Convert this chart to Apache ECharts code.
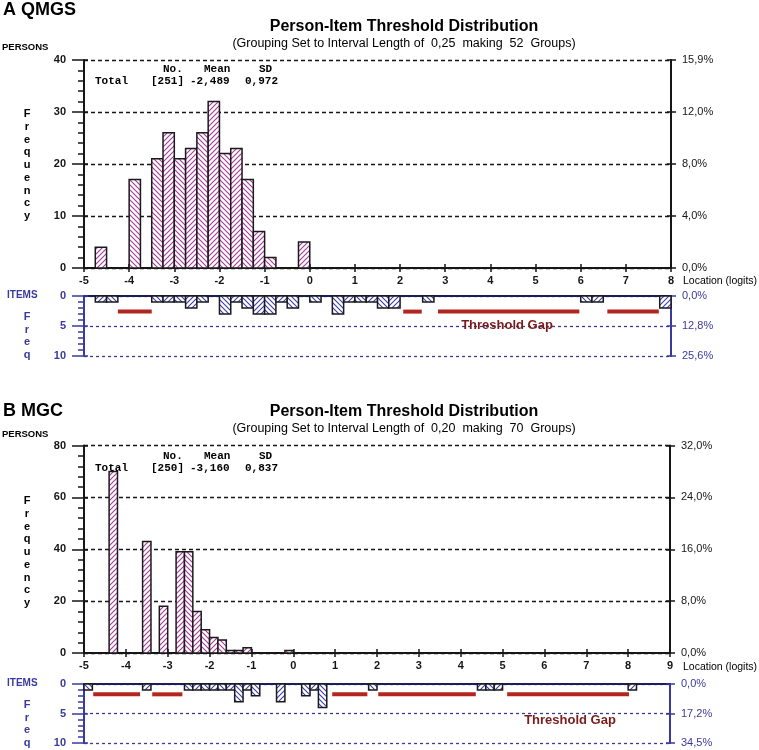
<!DOCTYPE html>
<html><head><meta charset="utf-8">
<script src="https://cdn.jsdelivr.net/npm/echarts@6/dist/echarts.min.js"></script>
<style>html,body{margin:0;padding:0;background:#fff}#c{width:759px;height:750px}</style>
</head><body><div id="c"></div>
<script>
// ---------- Panel A (QMGS) ----------
const rangeA = [-5, 8];
const binWidthA = 0.25;
const personBinStartA = [-4.75, -4, -3.5, -3.25, -3, -2.75, -2.5, -2.25, -2, -1.75, -1.5, -1.25, -1, -0.25];
const personCountA    = [4, 17, 21, 26, 21, 23, 26, 32, 22, 23, 17, 7, 2, 5];
const itemBinStartA = [-4.75, -4.5, -3.5, -3.25, -3, -2.75, -2.5, -2, -1.75, -1.5, -1.25, -1, -0.75, -0.5, 0, 0.5, 0.75, 1, 1.25, 1.5, 1.75, 2.5, 6, 6.25, 7.75];
const itemCountA    = [1, 1, 1, 1, 1, 2, 1, 3, 1, 2, 3, 3, 1, 2, 1, 3, 1, 1, 1, 2, 2, 1, 1, 1, 2];
const gapStartA = [-4.25, 2.07, 2.84, 6.59];
const gapEndA   = [-3.5, 2.48, 5.97, 7.73];
const gapLevelA = 2.6;
const personMaxA = 40, personStepA = 10;
const personPctA = ['0,0%', '4,0%', '8,0%', '12,0%', '15,9%'];
const itemPctA = ['0,0%', '12,8%', '25,6%'];
const statsA = ['[251]', '-2,489', '0,972'];
const subtitleA = '(Grouping Set to Interval Length of  0,25  making  52  Groups)';

// ---------- Panel B (MGC) ----------
const rangeB = [-5, 9];
const binWidthB = 0.2;
const personBinStartB = [-4.4, -3.6, -3.2, -2.8, -2.6, -2.4, -2.2, -2.0, -1.8, -1.6, -1.4, -1.2, -0.2];
const personCountB    = [70, 43, 18, 39, 39, 16, 9, 6, 5, 1, 1, 2, 1];
const itemBinStartB = [-5, -3.6, -2.6, -2.4, -2.2, -2.0, -1.8, -1.6, -1.4, -1.2, -1.0, -0.4, 0.2, 0.4, 0.6, 1.8, 4.4, 4.6, 4.8, 8.0];
const itemCountB    = [1, 1, 1, 1, 1, 1, 1, 1, 3, 1, 2, 3, 2, 1, 4, 1, 1, 1, 1, 1];
const gapStartB = [-4.78, -3.37, 0.93, 2.03, 5.11];
const gapEndB   = [-3.66, -2.65, 1.77, 4.36, 8.02];
const gapLevelB = 1.75;
const personMaxB = 80, personStepB = 20;
const personPctB = ['0,0%', '8,0%', '16,0%', '24,0%', '32,0%'];
const itemPctB = ['0,0%', '17,2%', '34,5%'];
const statsB = ['[250]', '-3,160', '0,837'];
const subtitleB = '(Grouping Set to Interval Length of  0,20  making  70  Groups)';

const itemMax = 10, itemStep = 5;

// ---------- styling ----------
const FONT = "'Liberation Sans', Arial, sans-serif";
const MONO = "'Liberation Mono', 'Courier New', monospace";
const BLACK = '#161616', BLUE = '#3a3a9e', NAVY = '#1d1d58', RED = '#b3261f', DARKRED = '#7a1c1c';

function hatch(color, forward) {
  const s = 5, c = document.createElement('canvas');
  c.width = s; c.height = s;
  const g = c.getContext('2d');
  g.fillStyle = '#fff'; g.fillRect(0, 0, s, s);
  g.strokeStyle = color; g.lineWidth = 1.1;
  g.beginPath();
  if (forward) {
    g.moveTo(-1, s + 1); g.lineTo(s + 1, -1);
    g.moveTo(-1, 1); g.lineTo(1, -1);
    g.moveTo(s - 1, s + 1); g.lineTo(s + 1, s - 1);
  } else {
    g.moveTo(-1, -1); g.lineTo(s + 1, s + 1);
    g.moveTo(s - 1, -1); g.lineTo(s + 1, 1);
    g.moveTo(-1, s - 1); g.lineTo(1, s + 1);
  }
  g.stroke();
  return { image: c, repeat: 'repeat' };
}
const personPat = [hatch('#a8389a', false), hatch('#a8389a', true)];
const itemPat = [hatch('#3b3bae', false), hatch('#3b3bae', true)];

// ---------- grids ----------
const grids = [
  { left: 84, top: 60, width: 587, height: 208 },
  { left: 84, top: 296, width: 587, height: 60 },
  { left: 84, top: 445.5, width: 586, height: 207.5 },
  { left: 84, top: 684, width: 586, height: 59 }
];

const xAxes = [], yAxes = [];
function histX(g, r) {
  xAxes.push({ gridIndex: g, type: 'value', min: r[0], max: r[1], interval: 1, position: 'bottom',
    axisLine: { onZero: false, lineStyle: { color: BLACK, width: 2 } },
    axisTick: { length: 4, lineStyle: { color: BLACK, width: 1.5 } },
    axisLabel: { margin: 7, color: BLACK, fontSize: 11, fontWeight: 'bold', fontFamily: FONT },
    splitLine: { show: false } });
  xAxes.push({ gridIndex: g, type: 'value', min: r[0], max: r[1], interval: 1, position: 'bottom',
    axisLine: { show: false, onZero: false }, axisTick: { inside: true, length: 4, lineStyle: { color: BLACK, width: 1.5 } },
    axisLabel: { show: false }, splitLine: { show: false } });
  return xAxes.length - 2;
}
function itemX(g, r) {
  xAxes.push({ gridIndex: g, type: 'value', min: r[0], max: r[1], position: 'top',
    axisLine: { onZero: false, lineStyle: { color: NAVY, width: 2 } },
    axisTick: { show: false }, axisLabel: { show: false }, splitLine: { show: false } });
  return xAxes.length - 1;
}
function panelY(g, max, step, minorSplit, color, pct, inverse, dash) {
  yAxes.push({ gridIndex: g, type: 'value', min: 0, max, interval: step, inverse, position: 'left',
    axisLine: { show: true, onZero: false, lineStyle: { color, width: 2 } },
    axisTick: { show: true, length: 12, lineStyle: { color, width: 1.5 } },
    minorTick: { show: true, splitNumber: minorSplit, length: 6, lineStyle: { color, width: 1.5 } },
    axisLabel: { margin: 18, color, fontSize: 11, fontWeight: 'bold', fontFamily: FONT },
    splitLine: { show: true, lineStyle: { color, width: 1.3, type: dash } } });
  const main = yAxes.length - 1;
  yAxes.push({ gridIndex: g, type: 'value', min: 0, max, interval: step, inverse, position: 'right',
    axisLine: { show: true, onZero: false, lineStyle: { color, width: 2 } },
    axisTick: { show: true, length: 5, lineStyle: { color, width: 1.5 } },
    axisLabel: { margin: 11, color, fontSize: 11, fontFamily: FONT, formatter: v => pct[Math.round(v / step)] },
    splitLine: { show: false } });
  yAxes.push({ gridIndex: g, type: 'value', min: 0, max, interval: step, inverse, position: 'left',
    axisLine: { show: false, onZero: false }, axisTick: { show: true, inside: true, length: 4, lineStyle: { color, width: 1.5 } },
    axisLabel: { show: false }, splitLine: { show: false } });
  yAxes.push({ gridIndex: g, type: 'value', min: 0, max, interval: step, inverse, position: 'right',
    axisLine: { show: false, onZero: false }, axisTick: { show: true, inside: true, length: 4, lineStyle: { color, width: 1.5 } },
    axisLabel: { show: false }, splitLine: { show: false } });
  return main;
}

function bars(xi, yi, starts, counts, width, origin, pats) {
  return { type: 'custom', xAxisIndex: xi, yAxisIndex: yi, z: 3, silent: true,
    data: starts.map((s, i) => [s, s + width, counts[i], Math.round((s - origin) / width) % 2]),
    renderItem: (p, api) => {
      const a = api.coord([api.value(0), 0]);
      const b = api.coord([api.value(1), api.value(2)]);
      return { type: 'rect',
        shape: { x: Math.min(a[0], b[0]), y: Math.min(a[1], b[1]), width: Math.abs(b[0] - a[0]), height: Math.abs(b[1] - a[1]) },
        style: { fill: pats[api.value(3)], stroke: '#1a1a1a', lineWidth: 1.5 } };
    } };
}
function gaps(xi, yi, st, en, level) {
  return { type: 'custom', xAxisIndex: xi, yAxisIndex: yi, z: 4, silent: true,
    data: st.map((s, i) => [s, en[i], level]),
    renderItem: (p, api) => {
      const a = api.coord([api.value(0), api.value(2)]);
      const b = api.coord([api.value(1), api.value(2)]);
      return { type: 'line', shape: { x1: a[0], y1: a[1], x2: b[0], y2: b[1] }, style: { stroke: RED, lineWidth: 4 } };
    } };
}

const xhA = histX(0, rangeA), yhA = panelY(0, personMaxA, personStepA, 5, BLACK, personPctA, false, [4, 3]);
const xiA = itemX(1, rangeA), yiA = panelY(1, itemMax, itemStep, 5, BLUE, itemPctA, true, [3, 3]);
const xhB = histX(2, rangeB), yhB = panelY(2, personMaxB, personStepB, 5, BLACK, personPctB, false, [4, 3]);
const xiB = itemX(3, rangeB), yiB = panelY(3, itemMax, itemStep, 5, BLUE, itemPctB, true, [3, 3]);

const series = [
  bars(xhA, yhA, personBinStartA, personCountA, binWidthA, rangeA[0], personPat),
  bars(xiA, yiA, itemBinStartA, itemCountA, binWidthA, rangeA[0], itemPat),
  gaps(xiA, yiA, gapStartA, gapEndA, gapLevelA),
  bars(xhB, yhB, personBinStartB, personCountB, binWidthB, rangeB[0], personPat),
  bars(xiB, yiB, itemBinStartB, itemCountB, binWidthB, rangeB[0], itemPat),
  gaps(xiB, yiB, gapStartB, gapEndB, gapLevelB)
];

function txt(x, y, text, font, fill, align, valign, extra) {
  const st = Object.assign({ text, font, fill, align: align || 'left', verticalAlign: valign || 'middle',
    textAlign: align || 'left', textVerticalAlign: valign || 'middle' }, extra || {});
  return { type: 'text', x, y, silent: true, z: 10, style: st };
}
const vert = s => s.split('').join('\n');
function panelTexts(dy, letter, letterY, subtitle, stats, gapX, pos, titleY) {
  return [
    txt(3, letterY, letter, 'bold 18px ' + FONT, '#000'),
    txt(404, titleY, 'Person-Item Threshold Distribution', 'bold 16px ' + FONT, '#000', 'center'),
    txt(404, titleY + 16.5, subtitle, '12.5px ' + FONT, '#000', 'center'),
    txt(2, 47 + dy, 'PERSONS', 'bold 9.5px ' + FONT, '#000'),
    txt(27, 108 + dy, vert('Frequency'), 'bold 11px ' + FONT, '#000', 'center', 'top', { lineHeight: 12.7 }),
    txt(163, 69 + dy, 'No.', 'bold 11px ' + MONO, '#000'),
    txt(204, 69 + dy, 'Mean', 'bold 11px ' + MONO, '#000'),
    txt(259, 69 + dy, 'SD', 'bold 11px ' + MONO, '#000'),
    txt(95, 81 + dy, 'Total', 'bold 11px ' + MONO, '#000'),
    txt(151, 81 + dy, stats[0], 'bold 11px ' + MONO, '#000'),
    txt(190, 81 + dy, stats[1], 'bold 11px ' + MONO, '#000'),
    txt(245, 81 + dy, stats[2], 'bold 11px ' + MONO, '#000'),
    txt(7, pos.items, 'ITEMS', 'bold 10px ' + FONT, BLUE),
    txt(27, pos.freq, vert('Freq'), 'bold 11px ' + FONT, BLUE, 'center', 'top', { lineHeight: 12.5 }),
    txt(gapX, pos.gap, 'Threshold Gap', 'bold 13px ' + FONT, DARKRED, 'center'),
    txt(683, pos.loc, 'Location (logits)', '10.5px ' + FONT, '#000')
  ];
}
const graphics = [].concat(
  panelTexts(0, 'A QMGS', 10, subtitleA, statsA, 507, { items: 295, freq: 311, gap: 325, loc: 281 }, 27),
  panelTexts(387, 'B MGC', 411, subtitleB, statsB, 570, { items: 683, freq: 699, gap: 720, loc: 667 }, 412)
);

const chart = echarts.init(document.getElementById('c'), null, { renderer: 'canvas' });
chart.setOption({
  animation: false,
  backgroundColor: '#fff',
  textStyle: { fontFamily: FONT },
  grid: grids,
  xAxis: xAxes,
  yAxis: yAxes,
  series,
  graphic: { elements: graphics }
});
</script></body></html>
